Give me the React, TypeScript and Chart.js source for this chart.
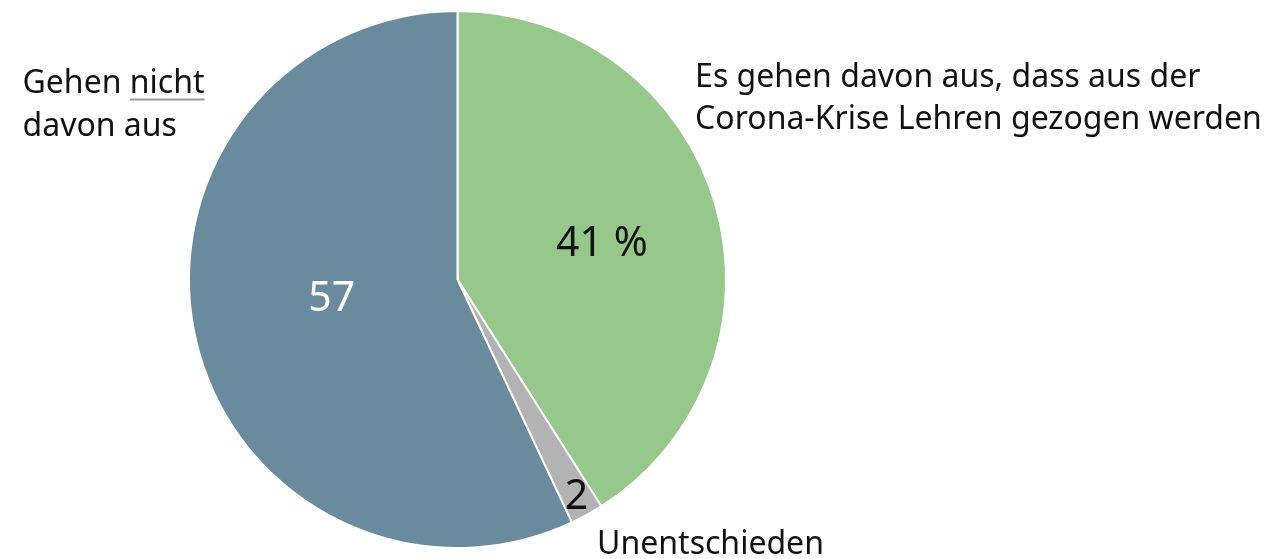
import React, { useEffect, useRef } from "react";
import { Chart, registerables } from "chart.js";

Chart.register(...registerables);

const categories = ["Es gehen davon aus, dass aus der Corona-Krise Lehren gezogen werden", "Unentschieden", "Gehen nicht davon aus"];
const values = [41, 2, 57];
const valueLabels = ["41 %", "2", "57"];
const colors = ["#96c78b", "#b3b3b3", "#6a8a9d"];
const labelColors = ["#111111", "#111111", "#ffffff"];
const FONT = "'Noto Sans', sans-serif";

const labelPlugin = {
  id: "pieLabels",
  afterDatasetsDraw(chart: any) {
    const { ctx } = chart;
    const meta = chart.getDatasetMeta(0);
    const arcs = meta.data;
    ctx.save();
    ctx.textBaseline = "middle";
    // inner value labels
    const inner = [
      { f: 0.56, dy: 7 },
      { f: 0.92, dy: 1 },
      { f: 0.48, dy: -8 },
    ];
    arcs.forEach((arc: any, i: number) => {
      const mid = (arc.startAngle + arc.endAngle) / 2;
      const r = arc.outerRadius * inner[i].f;
      const x = arc.x + Math.cos(mid) * r;
      const y = arc.y + Math.sin(mid) * r + inner[i].dy;
      ctx.fillStyle = labelColors[i];
      ctx.font = `41px ${FONT}`;
      ctx.textAlign = "center";
      ctx.fillText(valueLabels[i], x, y);
    });
    // outside category labels
    const a0 = arcs[0];
    const cx = a0.x, cy = a0.y, R = a0.outerRadius;
    ctx.fillStyle = "#111111";
    ctx.font = `32px ${FONT}`;
    ctx.textAlign = "left";
    // green
    ctx.fillText("Es gehen davon aus, dass aus der", cx + R * 0.885, cy - R * 0.752);
    ctx.fillText("Corona-Krise Lehren gezogen werden", cx + R * 0.885, cy - R * 0.593);
    // gray
    ctx.fillText("Unentschieden", cx + R * 0.52, cy + R * 0.99);
    // blue
    const bx = cx - R * 1.62;
    const y1 = cy - R * 0.73;
    ctx.fillText("Gehen ", bx, y1);
    const w1 = ctx.measureText("Gehen ").width;
    ctx.fillText("nicht", bx + w1, y1);
    const w2 = ctx.measureText("nicht").width;
    ctx.strokeStyle = "#9a9a9a";
    ctx.lineWidth = 2;
    ctx.beginPath();
    ctx.moveTo(bx + w1, y1 + 16);
    ctx.lineTo(bx + w1 + w2, y1 + 16);
    ctx.stroke();
    ctx.fillText("davon aus", bx, cy - R * 0.57);
    ctx.restore();
  },
};

export default function App() {
  const ref = useRef<HTMLCanvasElement>(null);
  useEffect(() => {
    if (!ref.current) return;
    const chart = new Chart(ref.current, {
      type: "pie",
      data: {
        labels: categories,
        datasets: [
          {
            data: values,
            backgroundColor: colors,
            borderColor: "#ffffff",
            borderWidth: 2,
          },
        ],
      },
      options: {
        animation: false,
        responsive: true,
        maintainAspectRatio: false,
        layout: { padding: { left: 0, right: 350, top: 10, bottom: 10 } },
        plugins: { legend: { display: false }, tooltip: { enabled: false } },
      },
      plugins: [labelPlugin],
    });
    return () => chart.destroy();
  }, []);
  return (
    <div style={{ position: "fixed", left: 0, top: 0, width: 1265, height: 559, background: "#fff" }}>
      <canvas ref={ref} />
    </div>
  );
}
